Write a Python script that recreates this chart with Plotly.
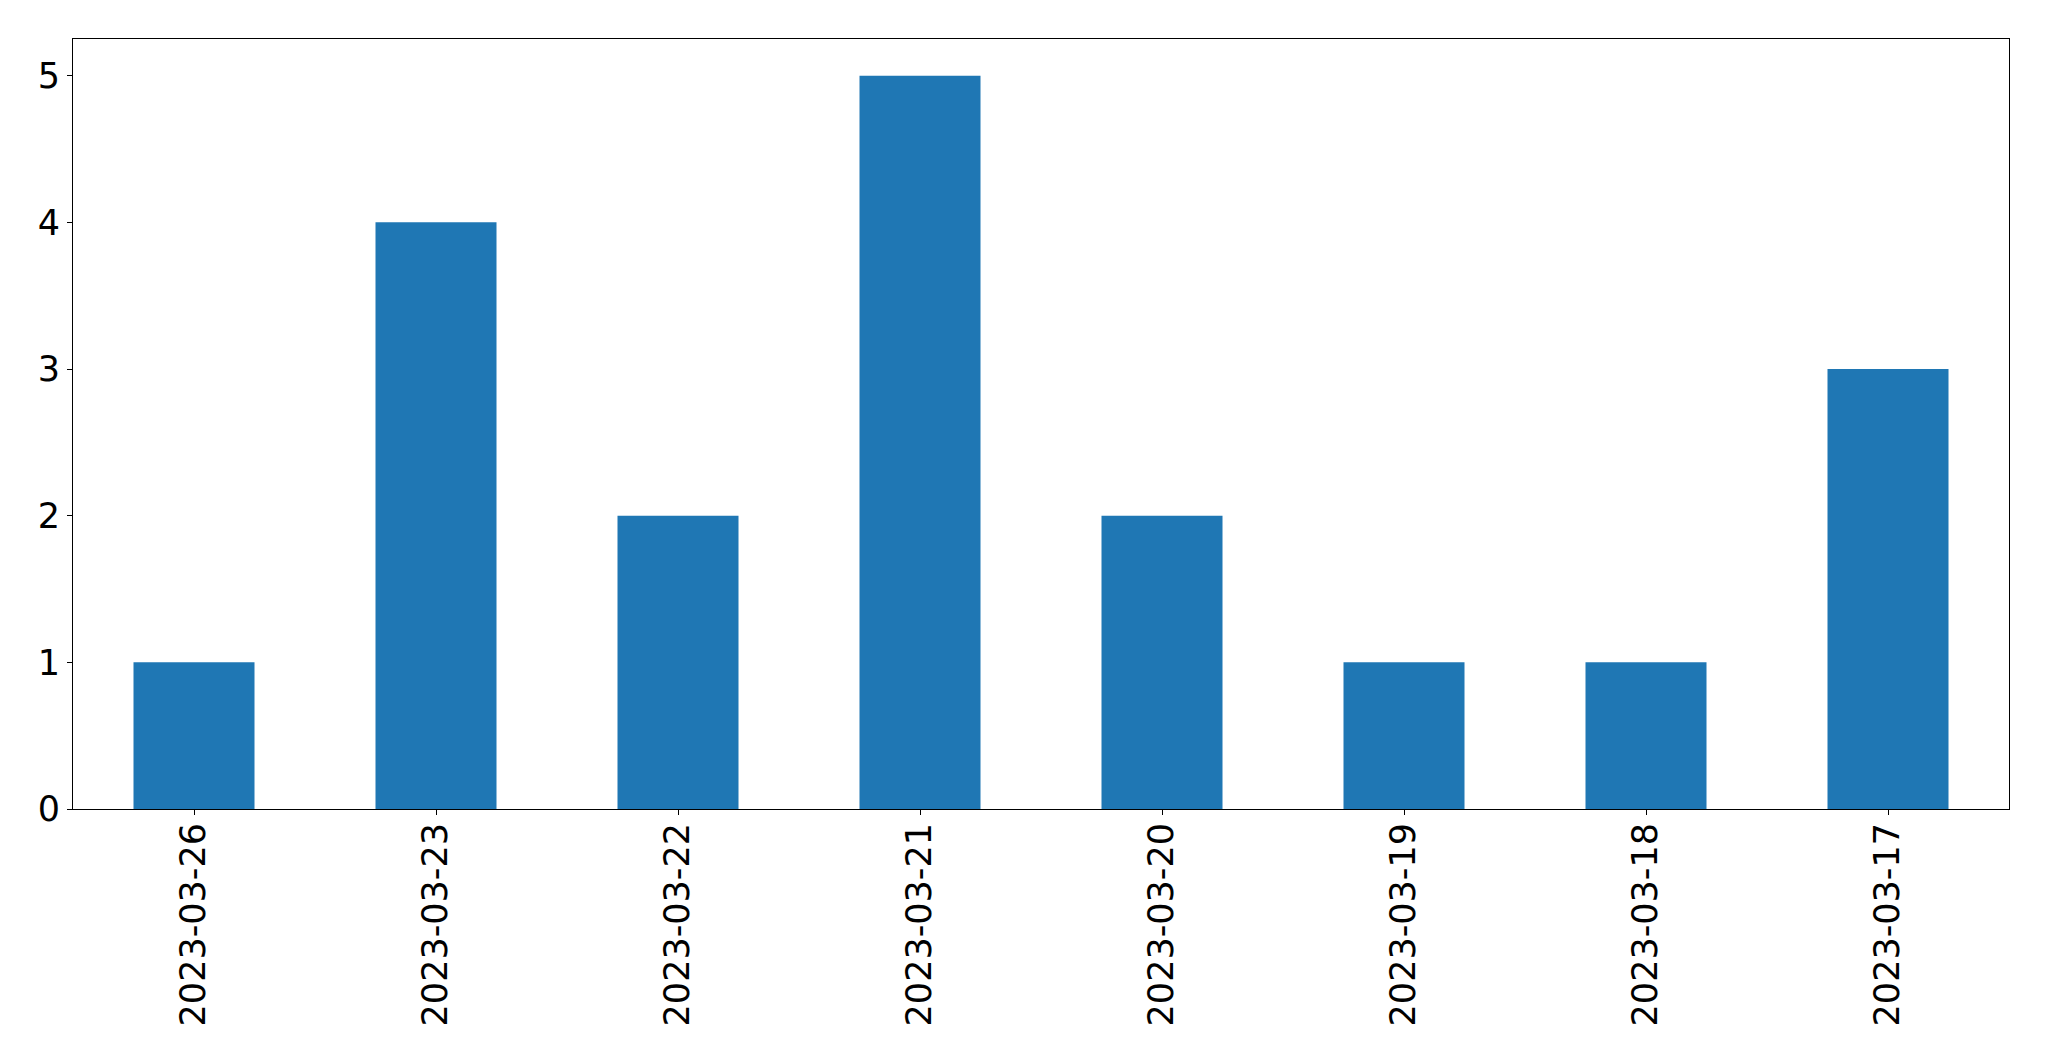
import plotly.graph_objects as go

dates = ["2023-03-26", "2023-03-23", "2023-03-22", "2023-03-21",
         "2023-03-20", "2023-03-19", "2023-03-18", "2023-03-17"]
counts = [1, 4, 2, 5, 2, 1, 1, 3]
y_ticks = [0, 1, 2, 3, 4, 5]

fig = go.Figure(go.Bar(
    x=dates, y=counts, width=0.5,
    marker=dict(color="#1f77b4", line=dict(width=0)),
))

axis_common = dict(
    showline=True, linecolor="black", linewidth=1, mirror=True,
    ticks="outside", ticklen=5, tickwidth=1, tickcolor="black",
    showgrid=False, zeroline=False,
    tickfont=dict(family="DejaVu Sans", size=35, color="black"),
)

fig.update_layout(
    width=2049, height=1061,
    margin=dict(l=73, r=40, t=39, b=252, autoexpand=False),
    plot_bgcolor="white", paper_bgcolor="white",
    showlegend=False,
    xaxis=dict(type="category", range=[-0.5, 7.5], tickangle=-90,
               ticklabelstandoff=-6, **axis_common),
    yaxis=dict(range=[0, 5.25], tickvals=y_ticks, **axis_common),
)

fig.write_html("out.html",
               config={"displayModeBar": False},
               post_script="document.body.style.margin='0';document.body.style.overflow='hidden';")
